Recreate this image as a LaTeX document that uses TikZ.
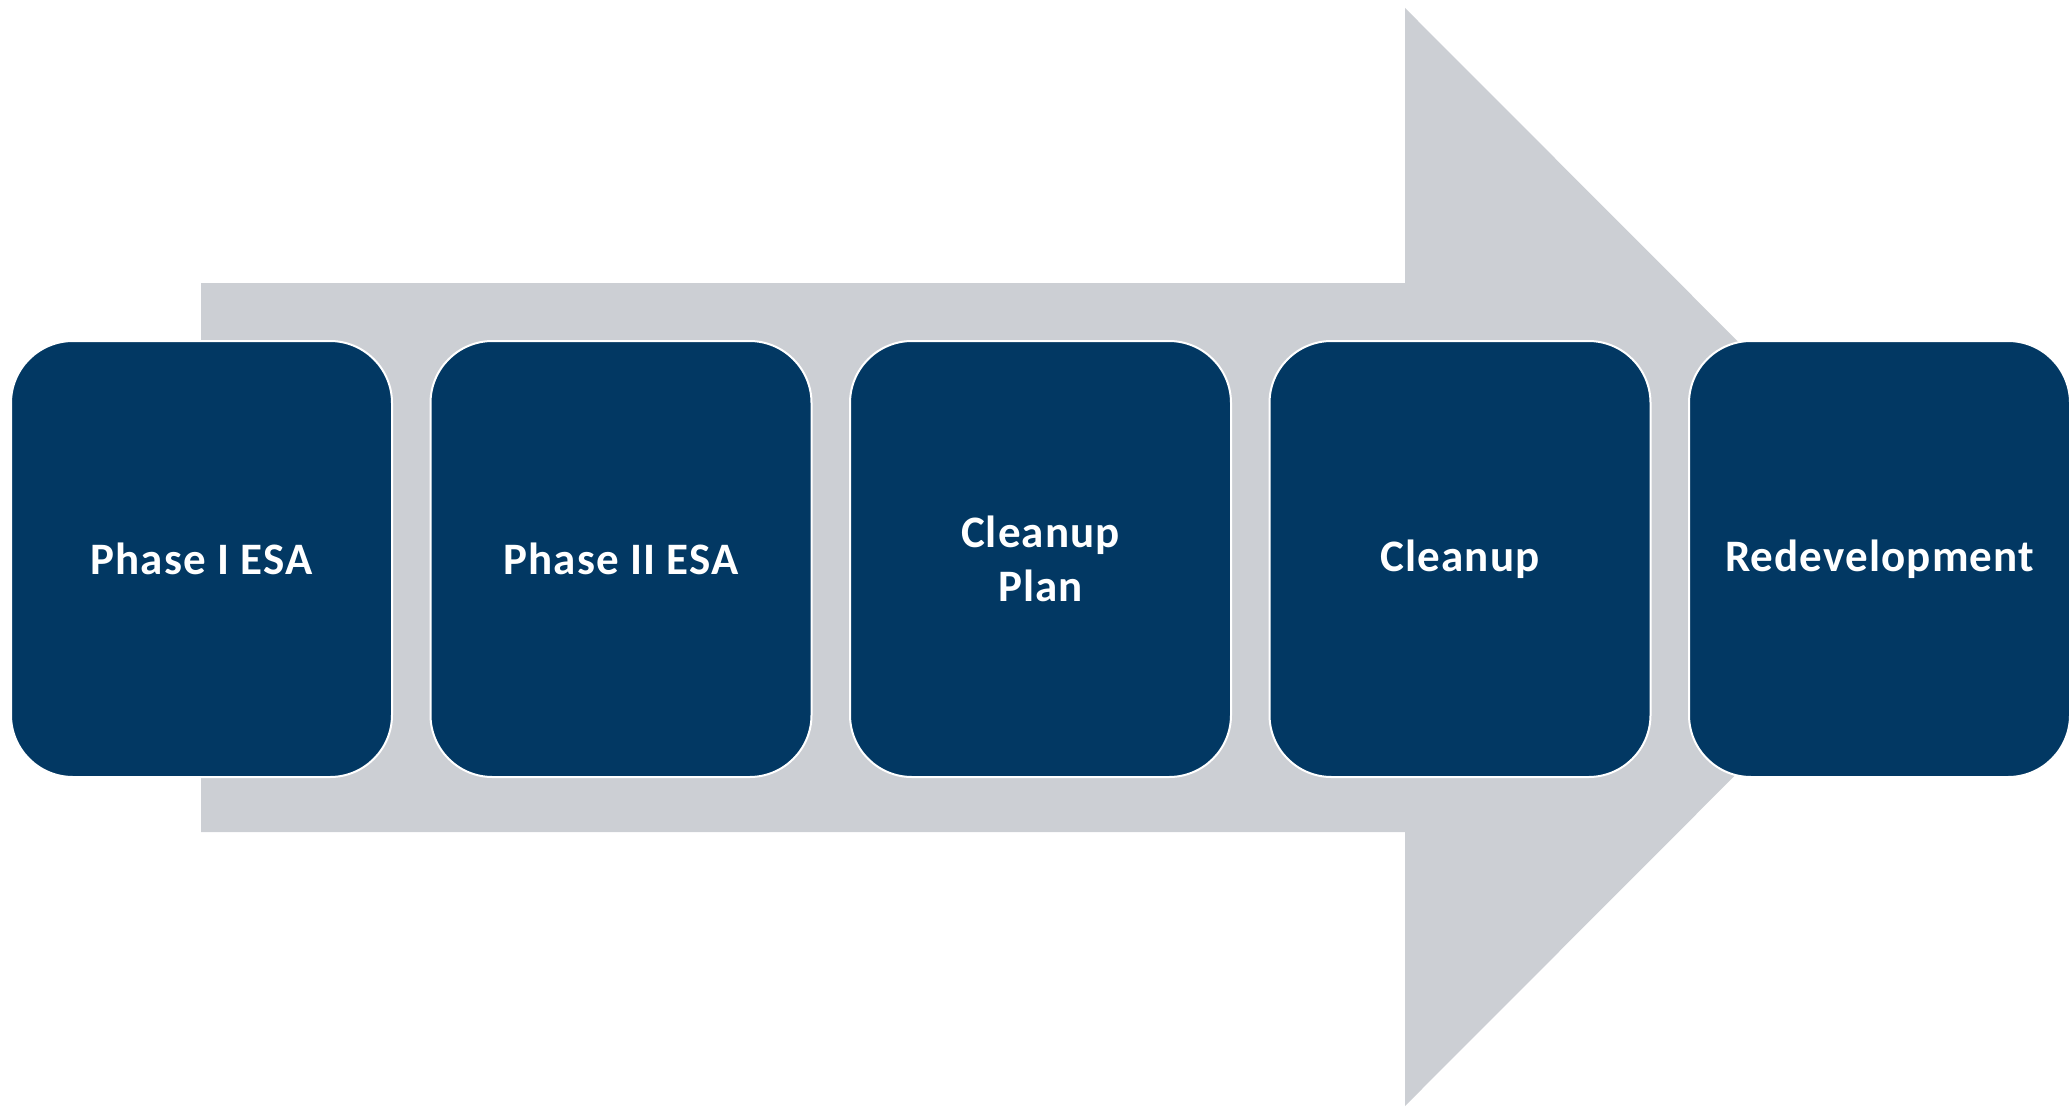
\documentclass[tikz,border=0pt]{standalone}
\usepackage{fontspec}
\setmainfont{Carlito}[LetterSpace=2.5]
\definecolor{navy}{RGB}{2,56,99}
\definecolor{arrowgray}{RGB}{204,207,212}
\begin{document}
\begin{tikzpicture}[x=0.5pt,y=-0.5pt,
  stagebox/.style={rectangle, rounded corners=31pt, minimum width=190.5pt, minimum height=218pt,
    fill=navy, draw=white, line width=1pt, text=white, align=center, inner sep=0pt,
    font=\fontsize{22.5}{26.7}\selectfont\bfseries}]
\useasboundingbox (0,0) rectangle (2071,1107);
\fill[arrowgray] (201,283) -- (1405,283) -- (1405,8) -- (1953,557) -- (1405,1106) -- (1405,832) -- (201,832) -- cycle;
\node[stagebox] (p1) at (201.5,559) {Phase I ESA};
\node[stagebox] (p2) at (621,559) {Phase II ESA};
\node[stagebox] (p3) at (1040.5,559) {Cleanup\\Plan};
\node[stagebox] (p4) at (1460,559) {Cleanup};
\node[stagebox] (p5) at (1879.5,559) {Redevelopment};
\end{tikzpicture}
\end{document}
